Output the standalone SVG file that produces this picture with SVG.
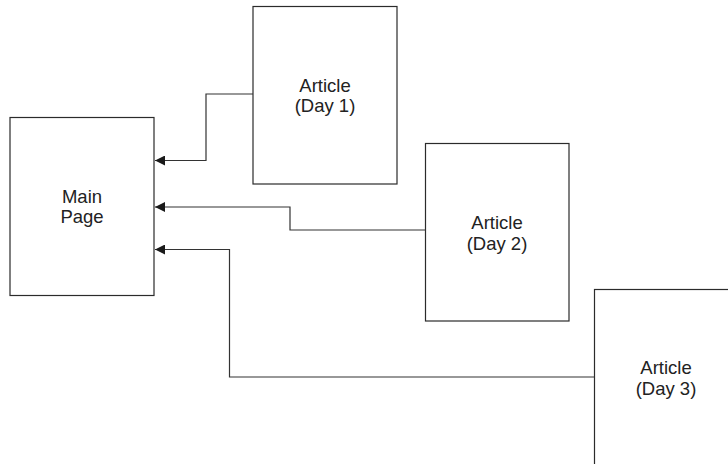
<svg xmlns="http://www.w3.org/2000/svg" width="728" height="464" viewBox="0 0 728 464">
<defs>
<marker id="arr" markerWidth="10" markerHeight="10" refX="10" refY="5" orient="auto" markerUnits="userSpaceOnUse">
<path d="M0,0 L10,5 L0,10 Z" fill="#1a1a1a"/>
</marker>
<style>
.box{fill:#fff;stroke:#2b2b2b;stroke-width:1.2}
.lbl{font-family:"Liberation Sans",Arial,sans-serif;font-size:18.5px;fill:#222;text-anchor:middle}
.con{fill:none;stroke:#333;stroke-width:1.2;marker-end:url(#arr)}
</style>
</defs>
<rect width="728" height="464" fill="#fff"/>
<g id="main">
<rect class="box" x="10" y="117.5" width="144" height="178"/>
<text class="lbl" x="82" y="203">Main</text>
<text class="lbl" x="82" y="223">Page</text>
</g>
<g id="day1">
<rect class="box" x="253" y="6.5" width="144" height="177.5"/>
<text class="lbl" x="325" y="92">Article</text>
<text class="lbl" x="325" y="112">(Day 1)</text>
</g>
<g id="day2">
<rect class="box" x="425.5" y="143.5" width="143.5" height="177.5"/>
<text class="lbl" x="497" y="229">Article</text>
<text class="lbl" x="497" y="250">(Day 2)</text>
</g>
<g id="day3">
<rect class="box" x="594.5" y="289.5" width="144" height="178"/>
<text class="lbl" x="666" y="374">Article</text>
<text class="lbl" x="666" y="395">(Day 3)</text>
</g>
<g id="connectors">
<path class="con" d="M253,94 H206 V160.5 H155"/>
<path class="con" d="M425.5,230 H290 V207 H155"/>
<path class="con" d="M594.5,377 H229.5 V249.5 H155"/>
</g>
</svg>
